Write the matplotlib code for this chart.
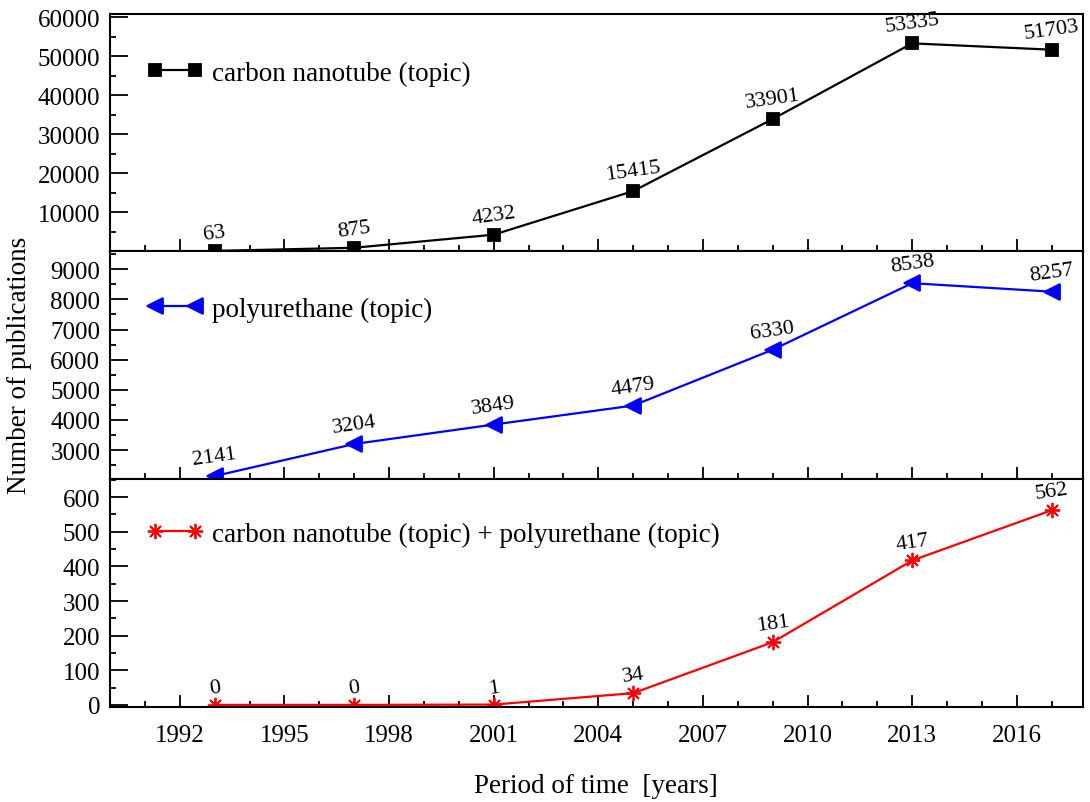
import matplotlib
matplotlib.use("Agg")
import matplotlib.pyplot as plt
from matplotlib.ticker import MultipleLocator

years = [1993, 1997, 2001, 2005, 2009, 2013, 2017]
cnt_counts = [63, 875, 4232, 15415, 33901, 53335, 51703]
pu_counts = [2141, 3204, 3849, 4479, 6330, 8538, 8257]
both_counts = [0, 0, 1, 34, 181, 417, 562]

xticks = [1992, 1995, 1998, 2001, 2004, 2007, 2010, 2013, 2016]

plt.rcParams["font.family"] = ["Liberation Serif", "DejaVu Serif"]
plt.rcParams["font.size"] = 18

fig, axes = plt.subplots(3, 1, figsize=(10.9, 8.03), dpi=100, sharex=True,
                         gridspec_kw={"height_ratios": [237, 228, 228], "hspace": 0})
fig.subplots_adjust(left=0.101, right=0.9936, top=0.981, bottom=0.1183)

panels = [
    (cnt_counts, "black", "s", 9, "carbon nanotube (topic)",
     (0, 60800), range(10000, 60001, 10000), 5000, 0.751),
    (pu_counts, "blue", "<", 11, "polyurethane (topic)",
     (2040, 9600), range(3000, 9001, 1000), 500, 0.746),
    (both_counts, "red", (8, 2, 0), 11, "carbon nanotube (topic) + polyurethane (topic)",
     (-6, 652), range(0, 601, 100), 50, 0.759),
]

for ax, (vals, col, mk, ms, lab, ylim, yt, ymin, ly) in zip(axes, panels):
    ax.plot(years, vals, color=col, marker=mk, markersize=ms, lw=1.6,
            markeredgewidth=1.3, label=lab)
    # value labels above each point
    for x, v in zip(years, vals):
        ax.annotate(str(v), (x, v), textcoords="offset points", xytext=(0, 5),
                    ha="center", va="bottom", rotation=8, fontsize=16)
    ax.set_ylim(*ylim)
    ax.set_yticks(list(yt))
    ax.yaxis.set_minor_locator(MultipleLocator(ymin))
    ax.xaxis.set_minor_locator(MultipleLocator(1))
    ax.tick_params(which="both", direction="in", top=False, right=False, width=1.3)
    ax.tick_params(axis="y", which="major", length=13, pad=7)
    ax.tick_params(axis="y", which="minor", length=4)
    ax.tick_params(axis="x", which="major", length=9)
    ax.tick_params(axis="x", which="minor", length=4)
    for s in ax.spines.values():
        s.set_linewidth(1.5)
    ax.legend(loc="center left", bbox_to_anchor=(0.038, ly), frameon=False,
              numpoints=2, handlelength=2.08, handletextpad=0.33,
              borderaxespad=0, borderpad=0, fontsize=19.5)

axes[-1].set_xlim(1990, 2017.9)
axes[-1].set_xticks(xticks)
axes[-1].tick_params(axis="x", pad=12)

fig.text(0.018, 0.545, "Number of publications", rotation=90, ha="center", va="center", fontsize=19.5)
fig.text(0.547, 0.02, "Period of time  [years]", ha="center", va="center", fontsize=19.5)

fig.savefig("out.png", dpi=100)
